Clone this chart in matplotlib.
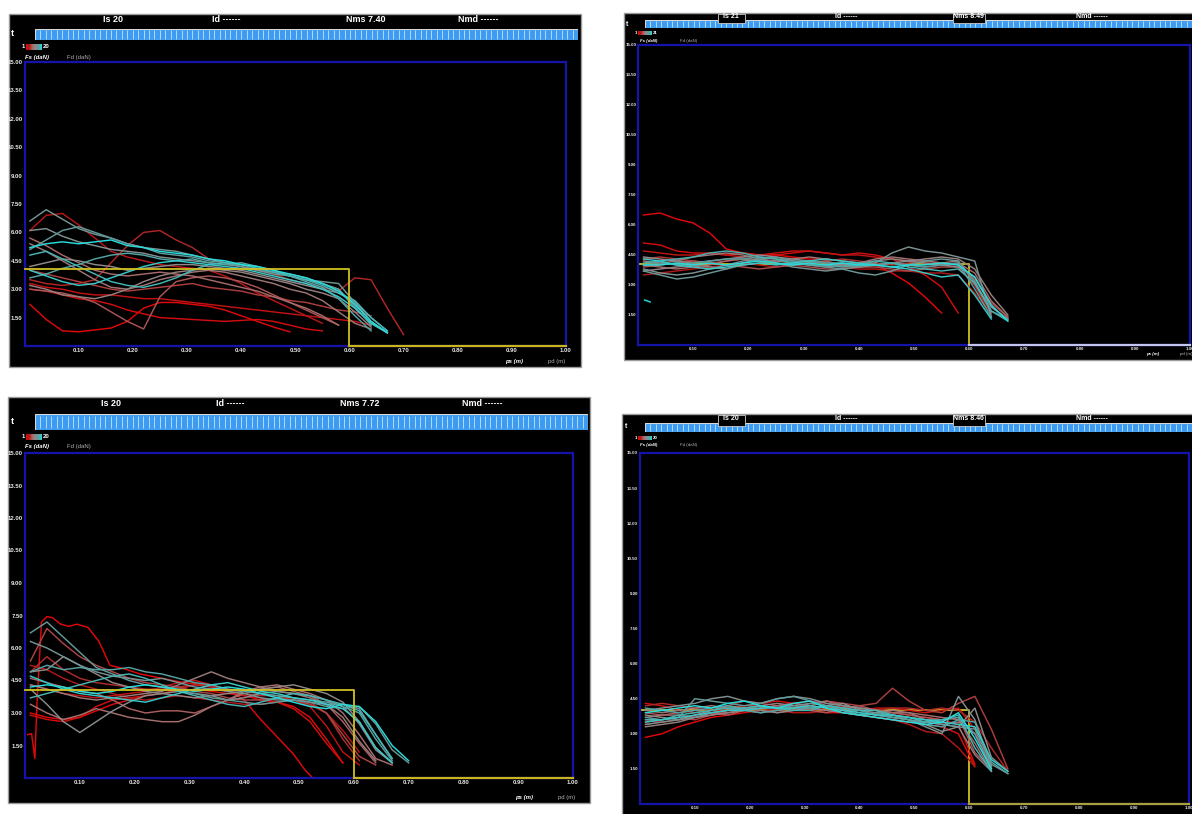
import logging
import numpy as np
import matplotlib
matplotlib.use('Agg')
import matplotlib.pyplot as plt
from matplotlib.patches import Rectangle
from matplotlib.colors import LinearSegmentedColormap

logging.getLogger('matplotlib.font_manager').setLevel(logging.ERROR)
plt.rcParams['font.family'] = ['Liberation Sans Narrow', 'Liberation Sans', 'DejaVu Sans']

# ---------------- data ----------------
GRID = [0.01, 0.04, 0.07, 0.10, 0.13, 0.16, 0.19, 0.22, 0.25, 0.28, 0.31, 0.34,
        0.37, 0.40, 0.43, 0.46, 0.49, 0.52, 0.55, 0.58, 0.61, 0.64, 0.67, 0.70]
Y_TICKS = [1.5, 3.0, 4.5, 6.0, 7.5, 9.0, 10.5, 12.0, 13.5, 15.0]
Y_LABELS = ['1.50', '3.00', '4.50', '6.00', '7.50', '9.00', '10.50', '12.00', '13.50', '15.00']
X_TICKS = [0.1, 0.2, 0.3, 0.4, 0.5, 0.6, 0.7, 0.8, 0.9, 1.0]
X_LABELS = ['0.10', '0.20', '0.30', '0.40', '0.50', '0.60', '0.70', '0.80', '0.90', '1.00']

P1_HEADER = ['Is 20', 'Id ------', 'Nms 7.40', 'Nmd ------']
P2_HEADER = ['Is 21', 'Id ------', 'Nms 8.49', 'Nmd ------']
P3_HEADER = ['Is 20', 'Id ------', 'Nms 7.72', 'Nmd ------']
P4_HEADER = ['Is 20', 'Id ------', 'Nms 8.46', 'Nmd ------']
P1_N, P2_N, P3_N, P4_N = '20', '21', '20', '20'

P1_LIMIT, P2_LIMIT, P3_LIMIT, P4_LIMIT = 4.05, 4.05, 4.04, 4.02
LIMIT_X = [0.0, 0.60, 0.60, 1.00]

P1_CURVES = [
    [2.2, 1.4, 0.8, 0.75, 0.85, 0.95, 1.3, 2.0, 2.3, 2.3, 2.2, 2.1, 1.9, 1.6, 1.3, 1.0, 0.75],
    [3.0, 2.9, 2.7, 2.5, 2.4, 2.2, 1.9, 1.7, 1.5, 1.45, 1.4, 1.35, 1.3, 1.35, 1.4, 1.3, 1.1, 0.9, 0.8],
    [3.3, 3.1, 3.0, 2.8, 2.7, 2.7, 2.6, 2.5, 2.5, 2.4, 2.3, 2.2, 2.1, 2.0, 1.9, 1.8, 1.7, 1.6, 1.5, 1.4, 1.3, 1.1],
    [6.1, 6.9, 7.0, 6.4, 5.7, 5.0, 4.7, 4.5, 4.3, 4.2, 4.1, 4.0, 3.7, 3.3, 2.8, 2.4, 2.0, 1.6, 1.2],
    [3.5, 3.3, 3.2, 3.3, 3.5, 4.4, 5.3, 6.0, 6.1, 5.6, 5.2, 4.6, 4.4, 4.2, 4.0, 3.8, 3.5, 3.3, 3.1, 2.9, 3.6, 3.5, 2.0, 0.6],
    [4.0, 3.8, 3.6, 3.4, 3.2, 3.0, 2.9, 3.0, 3.1, 3.2, 3.3, 3.1, 3.0, 2.9, 2.7, 2.6, 2.4, 2.3, 2.1, 1.9, 1.8, 1.6],
    [3.0, 2.9, 2.8, 2.6, 2.3, 1.8, 1.3, 0.9, 2.6, 3.4, 3.6, 3.7, 3.6, 3.4, 3.1, 2.7, 2.3, 1.9, 1.5, 1.1],
    [5.7, 5.3, 4.8, 4.4, 4.0, 3.8, 3.7, 3.8, 3.9, 3.8, 3.7, 3.5, 3.3, 3.1, 2.9, 2.6, 2.3, 2.0, 1.6, 1.1],
    [5.4, 5.0, 4.5, 4.0, 3.5, 3.1, 3.0, 3.2, 3.5, 3.7, 3.9, 4.0, 3.9, 3.7, 3.5, 3.3, 3.0, 2.8, 2.4, 1.8, 1.2, 0.9],
    [3.2, 3.0, 2.7, 2.6, 2.5, 2.7, 3.0, 3.4, 3.7, 3.9, 4.0, 4.1, 4.0, 3.9, 3.7, 3.5, 3.3, 3.0, 2.8, 2.5, 1.8, 1.0],
    [4.2, 4.4, 4.6, 4.5, 4.3, 4.2, 4.0, 4.1, 4.2, 4.3, 4.3, 4.2, 4.1, 4.0, 3.8, 3.6, 3.4, 3.2, 3.0, 2.8, 2.3, 1.5, 0.8],
    [6.1, 6.2, 5.8, 5.5, 5.3, 5.1, 5.0, 4.9, 4.7, 4.6, 4.5, 4.4, 4.3, 4.2, 4.0, 3.8, 3.7, 3.5, 3.3, 3.0, 2.0, 1.2, 0.7],
    [6.6, 7.2, 6.7, 6.2, 5.9, 5.7, 5.4, 5.2, 5.1, 5.0, 4.8, 4.6, 4.4, 4.2, 4.0, 3.9, 3.7, 3.5, 3.4, 3.3, 2.3, 1.3, 0.7],
    [5.1, 5.6, 6.1, 6.3, 6.0, 5.7, 5.4, 5.2, 4.9, 4.8, 4.7, 4.5, 4.4, 4.3, 4.1, 3.9, 3.8, 3.6, 3.3, 3.0, 2.1, 1.1],
    [3.6, 3.8, 4.1, 4.3, 4.6, 4.8, 4.9, 4.8, 4.6, 4.5, 4.6, 4.4, 4.3, 4.4, 4.2, 4.0, 3.7, 3.4, 3.1, 2.5, 1.6, 0.8],
    [4.8, 5.0, 4.6, 4.2, 3.8, 3.4, 3.2, 3.1, 3.3, 3.6, 4.0, 4.3, 4.4, 4.3, 4.1, 3.9, 3.7, 3.5, 3.2, 2.8, 2.4, 1.5, 0.8],
    [4.0, 3.7, 3.4, 3.2, 3.3, 3.6, 3.9, 4.2, 4.4, 4.5, 4.4, 4.3, 4.2, 4.1, 3.9, 3.7, 3.5, 3.3, 3.0, 2.6, 2.0, 1.2, 0.7],
    [5.2, 5.4, 5.5, 5.4, 5.5, 5.6, 5.3, 5.2, 5.0, 4.9, 4.8, 4.6, 4.5, 4.3, 4.2, 4.0, 3.8, 3.6, 3.3, 2.9, 2.2, 1.3, 0.7],
]

P2_CURVES = [
    [6.5, 6.6, 6.3, 6.1, 5.6, 4.8, 4.6, 4.5, 4.5, 4.4, 4.3, 4.3, 4.2, 4.1, 4.0, 3.6, 3.1, 2.4, 1.6],
    [5.1, 5.0, 4.7, 4.6, 4.6, 4.5, 4.6, 4.5, 4.5, 4.6, 4.7, 4.6, 4.5, 4.6, 4.5, 4.3, 3.9, 3.5, 2.9, 1.6],
    [4.7, 4.6, 4.5, 4.5, 4.6, 4.5, 4.4, 4.5, 4.6, 4.7, 4.7, 4.6, 4.5, 4.5, 4.4, 4.3, 4.2, 4.1, 4.0, 3.9, 3.0, 1.4],
    [3.5, 3.6, 3.7, 3.8, 3.9, 4.0, 4.1, 4.0, 3.9, 4.0, 4.1, 4.0, 3.9, 3.8, 3.8, 3.7, 3.7, 3.6, 3.6, 3.5, 2.6, 1.5],
    [4.3, 4.4, 4.3, 4.2, 4.1, 4.2, 4.3, 4.4, 4.3, 4.2, 4.1, 4.2, 4.3, 4.2, 4.1, 4.0, 4.1, 4.2, 4.1, 4.0, 3.3, 2.1, 1.4],
    [3.9, 4.0, 4.1, 4.2, 4.1, 4.0, 3.9, 3.8, 3.9, 4.0, 3.9, 3.8, 3.8, 3.9, 3.9, 3.8, 3.7, 3.8, 3.9, 3.9, 3.0, 1.9, 1.3],
    [4.0, 3.9, 3.8, 3.9, 4.0, 4.2, 4.3, 4.2, 4.1, 4.0, 4.1, 4.2, 4.0, 3.9, 4.0, 4.1, 4.0, 3.9, 4.0, 4.1, 3.6, 2.2, 1.4],
    [4.2, 4.1, 4.2, 4.4, 4.5, 4.6, 4.5, 4.3, 4.2, 4.3, 4.4, 4.3, 4.2, 4.1, 4.3, 4.4, 4.3, 4.2, 4.1, 4.2, 3.1, 1.6],
    [3.7, 3.8, 3.9, 4.0, 3.9, 3.8, 4.0, 4.1, 4.2, 4.1, 4.0, 3.9, 4.0, 4.1, 4.2, 4.3, 4.2, 4.3, 4.4, 4.3, 3.8, 2.5, 1.5],
    [4.4, 4.3, 4.2, 4.1, 4.2, 4.3, 4.4, 4.5, 4.4, 4.3, 4.2, 4.1, 4.0, 3.9, 4.0, 4.1, 4.2, 4.1, 4.0, 3.9, 3.4, 1.9, 1.3],
    [3.8, 3.6, 3.5, 3.6, 3.8, 4.0, 4.2, 4.3, 4.1, 3.9, 3.8, 3.7, 3.8, 3.9, 4.1, 4.6, 4.9, 4.7, 4.6, 4.4, 4.2, 1.4],
    [3.7, 3.5, 3.3, 3.4, 3.6, 3.8, 4.1, 4.3, 4.4, 4.2, 4.0, 3.9, 3.8, 3.6, 3.5, 3.7, 4.0, 4.2, 4.3, 4.2, 3.2, 1.7, 1.3],
    [4.0, 4.1, 4.0, 4.1, 4.2, 4.3, 4.3, 4.4, 4.3, 4.2, 4.2, 4.1, 4.1, 4.0, 4.0, 4.1, 4.0, 3.9, 4.0, 4.1, 2.8, 1.4],
    [4.1, 4.2, 4.3, 4.4, 4.6, 4.7, 4.6, 4.4, 4.3, 4.1, 4.0, 4.0, 3.9, 4.0, 4.2, 4.1, 3.9, 3.8, 3.7, 3.8, 3.1, 1.7, 1.2],
    [4.3, 4.2, 4.0, 3.9, 3.8, 3.9, 4.0, 4.1, 4.0, 4.1, 4.2, 4.3, 4.2, 4.1, 4.0, 3.9, 3.8, 3.6, 3.4, 3.5, 2.5, 1.3],
    [4.0, 4.0, 4.1, 4.0, 4.1, 4.0, 4.1, 4.2, 4.1, 4.0, 4.1, 4.0, 4.1, 4.0, 4.0, 3.9, 4.0, 4.0, 4.1, 4.0, 3.4, 2.0, 1.2],
]
P2_STUB_X = [0.012, 0.022]
P2_STUB_Y = [2.25, 2.15]

P3_SPIKE_X = [0.005, 0.012, 0.018, 0.022, 0.03, 0.04, 0.05, 0.065, 0.08, 0.095, 0.115, 0.135, 0.155,
              0.18, 0.21, 0.25, 0.29, 0.33, 0.37, 0.40, 0.43, 0.46, 0.49, 0.51, 0.525]
P3_SPIKE_Y = [2.0, 2.05, 0.9, 3.5, 7.2, 7.45, 7.4, 7.1, 7.0, 7.1, 6.95, 6.3, 5.2,
              5.05, 4.8, 4.6, 4.4, 4.3, 4.1, 3.6, 2.7, 1.9, 1.1, 0.4, 0.0]
P3_CURVES = [
    [3.0, 2.8, 2.7, 2.8, 3.1, 3.4, 3.6, 3.8, 3.9, 4.0, 4.1, 4.0, 3.9, 3.8, 3.6, 3.5, 3.3, 2.8, 1.8, 0.7],
    [2.9, 2.7, 2.6, 2.8, 3.3, 3.6, 3.7, 3.8, 3.9, 4.1, 4.3, 4.2, 4.0, 3.8, 3.7, 3.5, 3.2, 2.6, 1.6, 0.7],
    [4.3, 4.1, 3.9, 3.8, 3.7, 3.8, 3.9, 4.0, 4.2, 4.4, 4.5, 4.3, 4.1, 4.0, 3.9, 3.8, 3.6, 3.3, 2.4, 1.2, 0.6],
    [5.2, 5.0, 4.6, 4.3, 4.1, 3.9, 3.7, 3.6, 3.7, 3.8, 3.7, 3.6, 3.5, 3.4, 3.4, 3.5, 3.6, 3.4, 3.0, 2.2, 1.2],
    [4.9, 5.6, 5.0, 4.6, 4.4, 4.3, 4.2, 4.1, 4.1, 4.2, 4.3, 4.2, 4.0, 3.9, 3.8, 3.8, 3.7, 3.5, 3.0, 1.8, 0.8],
    [5.4, 6.9, 6.2, 5.6, 5.2, 4.9, 4.6, 4.4, 4.3, 4.2, 4.0, 3.9, 3.7, 3.6, 3.6, 3.7, 3.6, 3.4, 3.0, 2.0, 1.0, 0.6],
    [4.6, 4.4, 4.2, 4.0, 3.9, 3.6, 3.2, 3.0, 3.1, 3.1, 3.0, 3.3, 3.6, 3.9, 4.1, 4.2, 4.0, 3.8, 3.4, 2.6, 1.6, 0.7],
    [3.4, 3.0, 2.7, 2.9, 3.2, 3.0, 2.8, 2.7, 2.6, 2.6, 2.9, 3.3, 3.6, 4.0, 4.2, 4.3, 4.1, 3.9, 3.6, 3.0, 2.0, 0.9, 0.6],
    [4.3, 4.1, 3.9, 3.7, 3.6, 3.7, 3.8, 3.9, 4.0, 4.3, 4.6, 4.9, 4.6, 4.4, 4.2, 4.0, 3.9, 3.7, 3.4, 2.8, 1.7, 0.8],
    [4.9, 5.0, 5.6, 5.2, 4.8, 4.4, 4.2, 4.0, 3.9, 3.8, 3.7, 3.8, 3.9, 4.0, 4.1, 4.2, 4.3, 4.1, 3.9, 3.5, 2.6, 1.4, 0.7],
    [4.1, 3.4, 2.6, 2.1, 2.6, 3.1, 3.5, 3.8, 3.9, 4.0, 3.9, 3.8, 3.6, 3.7, 3.9, 4.0, 3.9, 3.8, 3.6, 3.3, 2.5, 1.3, 0.7],
    [6.3, 6.0, 5.6, 5.2, 4.9, 4.7, 4.6, 4.5, 4.6, 4.4, 4.2, 4.1, 4.0, 3.9, 3.7, 3.6, 3.6, 3.5, 3.4, 3.4, 3.2, 2.0, 0.9],
    [6.7, 7.2, 6.5, 5.8, 5.1, 4.8, 4.5, 4.3, 4.2, 4.0, 3.9, 3.7, 3.6, 3.5, 3.4, 3.5, 3.6, 3.5, 3.3, 3.2, 3.3, 2.5, 1.3, 0.7],
    [4.9, 5.2, 5.0, 5.1, 5.0, 5.0, 5.1, 4.9, 4.8, 4.6, 4.4, 4.3, 4.1, 4.0, 3.9, 3.8, 3.7, 3.6, 3.5, 3.3, 3.0, 1.8, 0.8],
    [3.7, 3.9, 4.1, 4.3, 4.5, 4.7, 4.8, 4.6, 4.3, 4.0, 3.8, 3.6, 3.4, 3.3, 3.5, 3.7, 3.9, 3.8, 3.6, 3.4, 3.1, 2.0, 0.9],
    [4.7, 4.4, 4.1, 3.9, 3.8, 3.7, 3.6, 3.5, 3.7, 3.9, 4.1, 4.3, 4.4, 4.2, 4.0, 3.9, 3.7, 3.6, 3.4, 3.2, 2.6, 1.4, 0.7],
    [4.2, 4.3, 4.2, 4.0, 3.9, 4.0, 4.2, 4.3, 4.2, 4.1, 4.0, 4.1, 4.2, 4.1, 3.9, 3.7, 3.5, 3.3, 3.2, 3.4, 3.3, 2.6, 1.5, 0.8],
]

P4_CURVES = [
    [2.85, 3.0, 3.3, 3.5, 3.7, 3.8, 3.9, 4.0, 4.0, 4.1, 4.0, 3.9, 3.9, 3.8, 3.7, 3.6, 3.5, 3.4, 3.3, 3.0, 1.6],
    [4.3, 4.2, 4.0, 3.9, 4.0, 4.1, 4.2, 4.3, 4.4, 4.3, 4.2, 4.1, 4.2, 4.1, 4.0, 3.9, 3.8, 3.7, 3.6, 3.4, 1.7],
    [3.4, 3.5, 3.6, 3.7, 3.9, 4.1, 4.2, 4.2, 4.1, 4.0, 4.0, 4.1, 4.1, 4.0, 4.1, 4.1, 4.0, 3.9, 4.0, 4.1, 3.2, 1.4],
    [3.6, 3.5, 3.6, 3.8, 3.9, 3.9, 4.0, 4.1, 4.0, 3.9, 3.9, 4.0, 4.0, 3.8, 3.7, 3.6, 3.4, 3.1, 3.0, 2.4, 1.6],
    [4.2, 4.3, 4.2, 4.1, 4.0, 4.2, 4.4, 4.3, 4.2, 4.3, 4.4, 4.3, 4.2, 4.1, 4.0, 4.1, 4.1, 4.0, 4.1, 4.0, 3.5, 2.4, 1.4],
    [3.5, 3.6, 3.7, 3.6, 3.8, 4.0, 4.1, 4.0, 3.9, 4.0, 4.2, 4.4, 4.3, 4.2, 4.3, 4.95, 4.4, 4.0, 3.9, 4.3, 4.6, 3.2, 1.5],
    [3.9, 3.8, 3.9, 4.0, 3.9, 3.8, 4.0, 4.1, 4.2, 4.1, 4.0, 3.9, 4.1, 4.2, 4.0, 3.9, 3.8, 3.7, 3.6, 3.7, 2.2, 1.5],
    [3.7, 3.8, 3.8, 3.7, 3.8, 3.9, 4.0, 3.9, 4.0, 4.1, 4.3, 4.4, 4.2, 4.1, 4.0, 3.9, 3.9, 3.8, 3.7, 3.6, 2.6, 1.4],
    [4.0, 3.9, 4.0, 4.1, 4.2, 4.1, 4.0, 4.1, 4.2, 4.3, 4.2, 4.1, 4.0, 3.8, 3.9, 4.0, 3.9, 3.6, 3.4, 3.5, 3.0, 1.6],
    [3.3, 3.4, 3.5, 3.7, 3.8, 3.9, 4.0, 4.2, 4.3, 4.2, 4.1, 4.0, 3.9, 3.8, 3.7, 3.6, 3.5, 3.5, 3.4, 3.3, 2.1, 1.4],
    [3.8, 3.7, 3.6, 3.8, 4.0, 4.2, 4.1, 4.0, 3.9, 4.0, 4.1, 4.2, 4.3, 4.0, 3.9, 3.7, 3.6, 3.4, 3.1, 3.3, 4.1, 2.0, 1.4],
    [4.0, 4.1, 4.2, 4.3, 4.5, 4.6, 4.4, 4.3, 4.5, 4.6, 4.5, 4.3, 4.2, 4.1, 4.0, 3.8, 3.6, 3.3, 3.0, 4.6, 3.6, 1.6],
    [3.4, 3.5, 3.6, 3.7, 3.9, 4.0, 4.1, 4.2, 4.1, 4.2, 4.3, 4.2, 4.1, 3.9, 3.8, 3.7, 3.6, 3.5, 3.4, 3.3, 3.2, 1.7, 1.3],
    [3.7, 3.6, 3.7, 4.5, 4.4, 4.3, 4.2, 4.3, 4.5, 4.6, 4.4, 4.2, 4.0, 3.8, 3.9, 3.8, 3.7, 3.6, 3.6, 3.7, 3.0, 1.5],
    [4.1, 4.0, 3.9, 4.0, 4.1, 4.2, 4.0, 3.9, 4.0, 4.1, 4.1, 4.2, 4.1, 4.0, 3.8, 3.7, 3.6, 3.4, 3.3, 3.6, 3.5, 1.8, 1.3],
    [3.6, 3.6, 3.8, 3.9, 4.0, 4.1, 4.1, 4.2, 4.1, 4.0, 4.0, 4.2, 4.1, 4.0, 4.0, 3.8, 3.7, 3.5, 3.6, 3.8, 2.4, 1.4],
    [3.5, 3.6, 3.7, 3.8, 3.9, 4.0, 4.0, 4.1, 4.1, 4.1, 4.2, 4.1, 4.0, 3.9, 3.8, 3.8, 3.7, 3.6, 3.5, 3.4, 3.3, 1.9, 1.4],
    [3.9, 4.0, 4.1, 4.2, 4.1, 4.3, 4.4, 4.2, 4.1, 4.3, 4.4, 4.1, 3.9, 3.8, 3.7, 3.6, 3.5, 3.4, 3.5, 3.9, 2.8, 1.5],
]

# ---------------- drawing ----------------
W, H = 1192, 814
fig = plt.figure(figsize=(W / 100, H / 100), dpi=100, facecolor='white')
CMAP = LinearSegmentedColormap.from_list(
    'rc', ['#e00808', '#b01818', '#a86868', '#8c8c8c', '#5a9c9c', '#28dcdc'])


def fbox(l, t, r, b):
    return [l / W, 1 - b / H, (r - l) / W, (b - t) / H]


def ftext(x, y, s, **kw):
    kw.setdefault('color', 'white')
    kw.setdefault('zorder', 10)
    fig.text(x / W, 1 - y / H, s, **kw)


def frect(l, t, r, b, fc, ec='none', lw=0.0, z=1):
    fig.add_artist(Rectangle((l / W, 1 - b / H), (r - l) / W, (b - t) / H,
                             transform=fig.transFigure, facecolor=fc,
                             edgecolor=ec, lw=lw, zorder=z))


def panel(cfg):
    l, t, r, b = cfg['panel']
    frect(l, t, r, b, 'black', ec='#9a9a9a', lw=1.0, z=-5)
    hs = cfg['hfs']
    for s, hx in zip(cfg['header'], cfg['hx']):
        ftext(hx, cfg['hy'], s, fontsize=hs, fontweight='bold', ha='center', va='center')
    # striped bar
    bl, bt, br, bb = cfg['bar']
    bax = fig.add_axes(fbox(bl, bt, br, bb))
    bax.set_xlim(0, 1)
    bax.set_ylim(0, 1)
    bax.add_patch(Rectangle((0, 0), 1, 1, facecolor='#3d9cf2', edgecolor='#d8d8d8', lw=0.8))
    n = int((br - bl) / 5.4)
    bax.vlines(np.linspace(0, 1, n + 1)[1:-1], 0.12, 0.88, color='#c4e4ff', lw=0.6)
    bax.axis('off')
    for nl, nr in cfg.get('notches', []):
        frect(nl, t + 1, nr, bt + (bb - bt) * 0.35, 'black', ec='#cccccc', lw=0.6, z=5)
    ftext(cfg['tpos'][0], cfg['tpos'][1], 't', fontsize=hs, fontweight='bold', va='center')
    # gradient legend
    gl, gt, gr, gb = cfg['grad']
    gax = fig.add_axes(fbox(gl, gt, gr, gb))
    gax.imshow(np.linspace(0, 1, 64)[None, :], cmap=CMAP, aspect='auto')
    gax.axis('off')
    ls = cfg['lfs']
    ftext(gl - 1, (gt + gb) / 2, '1', fontsize=ls, fontweight='bold', ha='right', va='center')
    ftext(gr + 1, (gt + gb) / 2, cfg['n'], fontsize=ls, fontweight='bold', ha='left', va='center')
    ftext(cfg['fs'][0], cfg['fs'][1], 'Fs (daN)', fontsize=ls, fontweight='bold',
          style='italic', va='center')
    ftext(cfg['fd'][0], cfg['fd'][1], 'Fd (daN)', fontsize=ls, color='#b0b0b0', va='center')
    if cfg.get('ps'):
        ftext(cfg['ps'][0], cfg['ps'][1], 'ps (m)', fontsize=ls, fontweight='bold',
              style='italic', va='center')
        ftext(cfg['pd'][0], cfg['pd'][1], 'pd (m)', fontsize=ls, color='#b0b0b0', va='center')

    # main plot
    ax = fig.add_axes(fbox(*cfg['axes']))
    ax.set_facecolor('black')
    ax.set_xlim(0, 1)
    ax.set_ylim(0, 15)
    for sp in ax.spines.values():
        sp.set_color('#1414a8')
        sp.set_linewidth(1.6)
    ax.set_xticks(X_TICKS)
    ax.set_xticklabels(X_LABELS)
    ax.set_yticks(Y_TICKS)
    ax.set_yticklabels(Y_LABELS)
    ax.tick_params(length=0, colors='#e8e8e8', labelsize=cfg['tfs'], pad=cfg['pad'])
    for lab in ax.get_xticklabels() + ax.get_yticklabels():
        lab.set_fontweight('bold')

    lim_z = 3 if cfg['lim_top'] else 1.5
    ax.plot(LIMIT_X[:3], [cfg['limit'], cfg['limit'], 0], color='#d0c020', lw=1.3,
            zorder=lim_z, clip_on=False)
    ax.plot(LIMIT_X[2:], [0, 0], color=cfg['bottom'], lw=1.6, zorder=4, clip_on=False)

    curves = cfg['curves']
    nc = len(curves)
    for sx, sy, tc in cfg.get('pre', []):
        ax.plot(sx, sy, color=CMAP(tc), lw=1.05, zorder=2)
    for i, ys in enumerate(curves):
        ax.plot(GRID[:len(ys)], ys, color=CMAP(i / (nc - 1)), lw=1.05, zorder=2)
    for sx, sy, tc in cfg.get('post', []):
        ax.plot(sx, sy, color=CMAP(tc), lw=1.05, zorder=2)


panel(dict(panel=(9, 14, 581, 367), header=P1_HEADER, hx=[113, 226, 366, 478], hy=20, hfs=6.5,
           bar=(35, 29, 578, 40), tpos=(11, 34), grad=(26, 44, 42, 50), n=P1_N, lfs=4.3,
           fs=(25, 57), fd=(67, 57), ps=(505, 362), pd=(548, 362),
           axes=(24.5, 62, 566, 346), tfs=4.3, pad=1.5, limit=P1_LIMIT, lim_top=True,
           bottom='#c8b420', curves=P1_CURVES))

panel(dict(panel=(624, 13, 1193, 360), header=P2_HEADER, hx=[731, 846, 968, 1092], hy=17, hfs=5.0,
           bar=(645, 20, 1192, 28), tpos=(626, 24), grad=(638, 31, 652, 35), n=P2_N, lfs=3.2,
           fs=(640, 41), fd=(680, 41), ps=(1146, 354), pd=(1180, 354),
           axes=(638, 45, 1190, 345), tfs=3.2, pad=1.2, limit=P2_LIMIT, lim_top=False,
           bottom='#c4c4f0', curves=P2_CURVES, notches=[(718, 745), (953, 985)],
           post=[(P2_STUB_X, P2_STUB_Y, 1.0)]))

panel(dict(panel=(8, 397, 590, 803), header=P3_HEADER, hx=[111, 230, 360, 482], hy=403, hfs=6.5,
           bar=(35, 414, 588, 430), tpos=(11, 422), grad=(26, 434, 42, 440), n=P3_N, lfs=4.3,
           fs=(25, 447), fd=(67, 447), ps=(515, 797), pd=(558, 797),
           axes=(25, 453, 573, 778), tfs=4.3, pad=1.5, limit=P3_LIMIT, lim_top=True,
           bottom='#c8b420', curves=P3_CURVES, pre=[(P3_SPIKE_X, P3_SPIKE_Y, 0.0)]))

panel(dict(panel=(622, 414, 1193, 815), header=P4_HEADER, hx=[731, 846, 968, 1092], hy=418, hfs=5.0,
           bar=(645, 423, 1192, 432), tpos=(625, 427), grad=(638, 436, 652, 440), n=P4_N, lfs=3.2,
           fs=(640, 445), fd=(680, 445),
           axes=(640, 453, 1189, 804), tfs=3.2, pad=1.5, limit=P4_LIMIT, lim_top=False,
           bottom='#a8a038', curves=P4_CURVES, notches=[(718, 745), (953, 985)]))

fig.savefig('out.png', dpi=100, facecolor='white')
